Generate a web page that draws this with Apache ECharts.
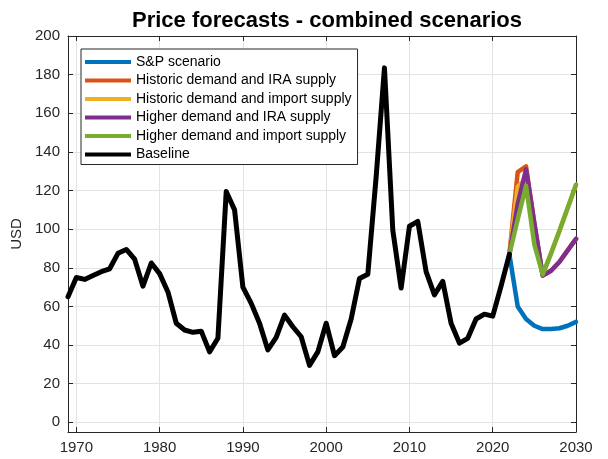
<!DOCTYPE html>
<html>
<head>
<meta charset="utf-8">
<script src="https://cdn.jsdelivr.net/npm/echarts@6/dist/echarts.min.js"></script>
<style>
  html, body { margin: 0; padding: 0; background: #fff; }
  #chart { width: 608px; height: 459px; }
</style>
</head>
<body>
<div id="chart"></div>
<script>
// Historic price series, 1969-2022
const baselineYears = [
  1969, 1970, 1971, 1972, 1973, 1974, 1975, 1976, 1977, 1978, 1979,
  1980, 1981, 1982, 1983, 1984, 1985, 1986, 1987, 1988, 1989,
  1990, 1991, 1992, 1993, 1994, 1995, 1996, 1997, 1998, 1999,
  2000, 2001, 2002, 2003, 2004, 2005, 2006, 2007, 2008, 2009,
  2010, 2011, 2012, 2013, 2014, 2015, 2016, 2017, 2018, 2019,
  2020, 2021, 2022
];
const baselineValues = [
  65, 75, 74, 76, 78, 79.5, 87.5, 89.5, 84.5, 70.5, 82.5,
  77, 67.5, 51.3, 47.8, 46.6, 47.2, 36.5, 43.5, 119.5, 110,
  70, 61.6, 51.3, 37.5, 44, 55.5, 49.5, 44.3, 29.5, 36.5,
  51.3, 34.5, 39, 53.5, 74.5, 76.7, 127, 183.5, 99.5, 69.5,
  101.5, 104, 78, 66, 73, 51.3, 41, 43.5, 53.5, 56,
  55, 70.5, 87
];

// Forecast scenarios, 2022-2030
const forecastYears = [2022, 2023, 2024, 2025, 2026, 2027, 2028, 2029, 2030];
const spScenario       = [87, 60, 53.5, 50, 48.3, 48.3, 48.7, 50, 52];
const histDemandIra    = [87, 129.5, 132.5, 103, 76, 78.5, 83, 89, 95];
const histDemandImport = [87, 122, 126, 95, 76.5, 87.5, 99, 111, 123];
const highDemandIra    = [87, 113, 131, 103, 76, 78.5, 83, 89, 95];
const highDemandImport = [87, 105, 122.5, 92, 76.5, 87.5, 99, 111, 123];

// Axis ticks
const xTicks = [1970, 1980, 1990, 2000, 2010, 2020, 2030];
const yTicks = [0, 20, 40, 60, 80, 100, 120, 140, 160, 180, 200];

const pairs = (xs, ys) => xs.map((x, i) => [x, ys[i]]);

const textColor = '#262626';
const gridColor = '#e3e3e3';
const fontFamily = '"Liberation Sans", Arial, Helvetica, sans-serif';

function lineSeries(name, xs, ys, color, width, z) {
  return {
    name: name,
    type: 'line',
    data: pairs(xs, ys),
    showSymbol: false,
    symbol: 'none',
    color: color,
    lineStyle: { color: color, width: width, join: 'round', cap: 'round' },
    z: z,
    silent: true
  };
}

const chart = echarts.init(document.getElementById('chart'), null, { renderer: 'canvas' });

const xBase = {
  type: 'value',
  min: 1969,
  max: 2030,
  splitNumber: 6,
  minInterval: 10,
  maxInterval: 10,
  axisLine: { show: true, onZero: false, lineStyle: { color: textColor, width: 1 } },
  axisTick: { show: true, inside: true, length: 5, lineStyle: { color: textColor } }
};
const yBase = {
  type: 'value',
  min: -5,
  max: 200,
  splitNumber: 10,
  minInterval: 20,
  maxInterval: 20,
  axisLine: { show: true, onZero: false, lineStyle: { color: textColor, width: 1 } },
  axisTick: { show: true, inside: true, length: 5, lineStyle: { color: textColor } }
};

chart.setOption({
  animation: false,
  backgroundColor: '#ffffff',
  textStyle: { fontFamily: fontFamily },
  title: {
    text: 'Price forecasts - combined scenarios',
    left: 322,
    textAlign: 'center',
    top: 5,
    textStyle: { fontFamily: fontFamily, fontSize: 22, fontWeight: 'bold', color: '#000' }
  },
  grid: { left: 68, right: 32, top: 36, bottom: 27, containLabel: false },
  legend: {
    orient: 'vertical',
    left: 81,
    top: 49,
    padding: [6, 6, 3, 4],
    itemGap: 4.5,
    itemWidth: 46,
    itemHeight: 4,
    itemTextGap: 5,
    icon: 'rect',
    backgroundColor: '#ffffff',
    borderColor: textColor,
    borderWidth: 1,
    borderRadius: 0,
    textStyle: { fontFamily: fontFamily, fontSize: 14, color: '#000', lineHeight: 14 },
    data: [
      'S&P scenario',
      'Historic demand and IRA supply',
      'Historic demand and import supply',
      'Higher demand and IRA supply',
      'Higher demand and import supply',
      'Baseline'
    ]
  },
  xAxis: [
    Object.assign({}, xBase, {
      position: 'bottom',
      axisLabel: {
        show: true,
        margin: 8,
        color: textColor,
        fontSize: 15,
        fontFamily: fontFamily,
        formatter: v => (xTicks.indexOf(v) >= 0 ? String(v) : '')
      },
      splitLine: { show: true, lineStyle: { color: gridColor, width: 1 } }
    }),
    Object.assign({}, xBase, {
      position: 'top',
      axisLabel: { show: false },
      splitLine: { show: false }
    })
  ],
  yAxis: [
    Object.assign({}, yBase, {
      position: 'left',
      name: 'USD',
      nameLocation: 'middle',
      nameGap: 40,
      nameRotate: 90,
      nameTextStyle: { fontFamily: fontFamily, fontSize: 15, color: textColor },
      axisLabel: {
        show: true,
        margin: 8,
        color: textColor,
        fontSize: 15,
        fontFamily: fontFamily,
        formatter: v => (yTicks.indexOf(v) >= 0 ? String(v) : '')
      },
      splitLine: { show: true, lineStyle: { color: gridColor, width: 1 } }
    }),
    Object.assign({}, yBase, {
      position: 'right',
      axisLabel: { show: false },
      splitLine: { show: false }
    })
  ],
  series: [
    lineSeries('S&P scenario', forecastYears, spScenario, '#0072BD', 4.5, 2),
    lineSeries('Historic demand and IRA supply', forecastYears, histDemandIra, '#D95319', 4.5, 3),
    lineSeries('Historic demand and import supply', forecastYears, histDemandImport, '#EDB120', 4.5, 4),
    lineSeries('Higher demand and IRA supply', forecastYears, highDemandIra, '#7E2F8E', 4.5, 5),
    lineSeries('Higher demand and import supply', forecastYears, highDemandImport, '#77AC30', 4.5, 6),
    lineSeries('Baseline', baselineYears, baselineValues, '#000000', 5, 7)
  ]
});
</script>
</body>
</html>
